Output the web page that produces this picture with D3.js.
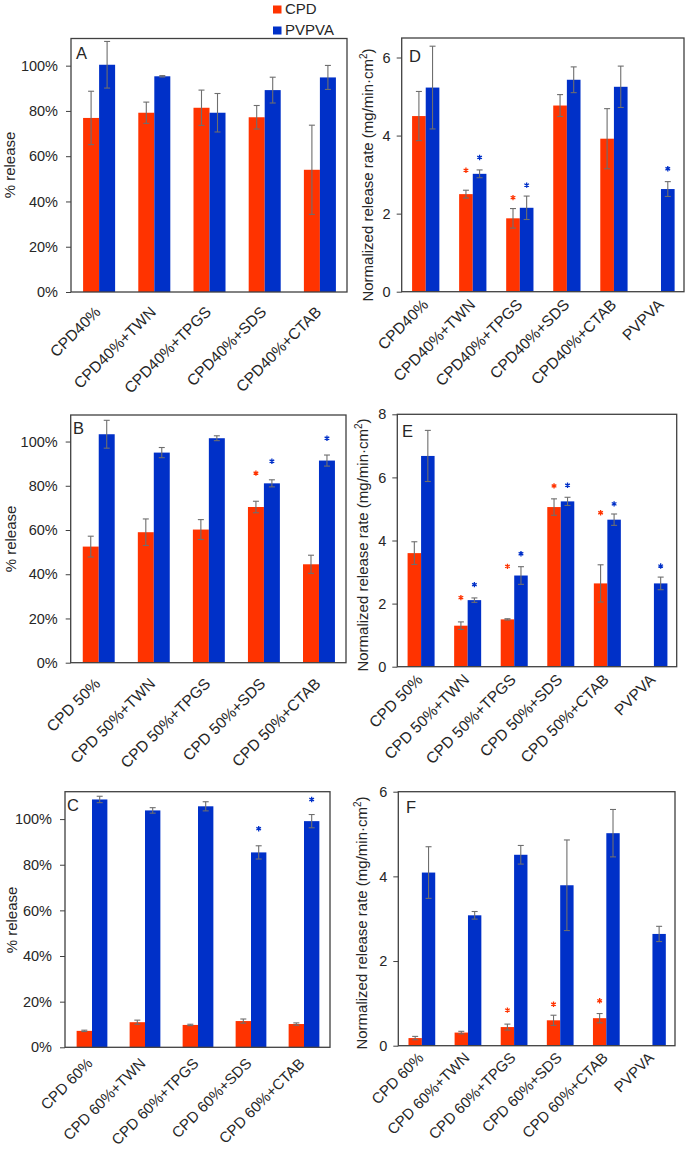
<!DOCTYPE html>
<html><head><meta charset="utf-8">
<script src="https://cdn.jsdelivr.net/npm/d3@7"></script>
<style>
html,body{margin:0;padding:0;background:#fff;}
text{font-family:"Liberation Sans",Arial,sans-serif;fill:#262626;}
</style></head>
<body><svg id="c" width="685" height="1152"></svg>
<script>
// ---------- data ----------
const seriesNames = ["CPD", "PVPVA"];
const seriesColors = ["#ff3300", "#0030c8"];

const catsA = ["CPD40%", "CPD40%+TWN", "CPD40%+TPGS", "CPD40%+SDS", "CPD40%+CTAB"];
const cpdA = [76.9, 79.2, 81.4, 77.2, 54.0];
const cpdErrA = [11.8, 4.7, 7.8, 5.2, 19.7];
const pvpvaA = [100.4, 95.3, 79.2, 89.2, 94.8];
const pvpvaErrA = [10.3, 0.3, 8.5, 5.7, 5.3];
const cpdStarA = [null, null, null, null, null];
const pvpvaStarA = [null, null, null, null, null];

const catsB = ["CPD 50%", "CPD 50%+TWN", "CPD 50%+TPGS", "CPD 50%+SDS", "CPD 50%+CTAB"];
const cpdB = [52.5, 59.0, 60.2, 70.4, 44.5];
const cpdErrB = [4.7, 6.0, 4.5, 2.6, 4.1];
const pvpvaB = [103.3, 95.0, 101.5, 81.1, 91.4];
const pvpvaErrB = [6.3, 2.3, 1.1, 1.6, 2.5];
const cpdStarB = [null, null, null, 85.7, null];
const pvpvaStarB = [null, null, null, 91.1, 101.5];

const catsC = ["CPD 60%", "CPD 60%+TWN", "CPD 60%+TPGS", "CPD 60%+SDS", "CPD 60%+CTAB"];
const cpdC = [7.2, 11.0, 9.8, 11.5, 10.2];
const cpdErrC = [0.3, 0.9, 0.3, 0.9, 0.5];
const pvpvaC = [108.6, 103.8, 105.6, 85.4, 99.1];
const pvpvaErrC = [1.4, 1.2, 2.0, 2.9, 2.9];
const cpdStarC = [null, null, null, null, null];
const pvpvaStarC = [null, null, null, 95.8, 108.6];

const catsD = ["CPD40%", "CPD40%+TWN", "CPD40%+TPGS", "CPD40%+SDS", "CPD40%+CTAB", "PVPVA"];
const cpdD = [4.50, 2.50, 1.88, 4.77, 3.92, null];
const cpdErrD = [0.63, 0.10, 0.25, 0.28, 0.77, null];
const pvpvaD = [5.23, 3.02, 2.15, 5.43, 5.25, 2.63];
const pvpvaErrD = [1.06, 0.10, 0.30, 0.33, 0.53, 0.19];
const cpdStarD = [null, 3.11, 2.41, null, null, null];
const pvpvaStarD = [null, 3.44, 2.73, null, null, 3.15];

const catsE = ["CPD 50%", "CPD 50%+TWN", "CPD 50%+TPGS", "CPD 50%+SDS", "CPD 50%+CTAB", "PVPVA"];
const cpdE = [3.60, 1.30, 1.50, 5.06, 2.64, null];
const cpdErrE = [0.36, 0.12, 0.02, 0.26, 0.59, null];
const pvpvaE = [6.68, 2.11, 2.89, 5.24, 4.66, 2.64];
const pvpvaErrE = [0.81, 0.07, 0.28, 0.13, 0.18, 0.20];
const cpdStarE = [null, 2.19, 3.18, 5.73, 4.88, null];
const pvpvaStarE = [null, 2.60, 3.58, 5.75, 5.16, 3.19];

const catsF = ["CPD 60%", "CPD 60%+TWN", "CPD 60%+TPGS", "CPD 60%+SDS", "CPD 60%+CTAB", "PVPVA"];
const cpdF = [0.18, 0.31, 0.44, 0.60, 0.65, null];
const cpdErrF = [0.04, 0.03, 0.07, 0.12, 0.11, null];
const pvpvaF = [4.09, 3.08, 4.51, 3.79, 5.02, 2.64];
const pvpvaErrF = [0.61, 0.09, 0.22, 1.07, 0.56, 0.18];
const cpdStarF = [null, null, 0.84, 0.98, 1.06, null];
const pvpvaStarF = [null, null, null, null, null, null];

const pctTicks = [0, 20, 40, 60, 80, 100];
const rateTicksD = [0, 2, 4, 6];
const rateTicksE = [0, 2, 4, 6, 8];
const rateTicksF = [0, 2, 4, 6];
const pctTitle = "% release";
const rateTitle = "Normalized release rate (mg/min·cm";

// ---------- drawing ----------
const svg = d3.select("#c");

function panel(o) {
  const g = svg.append("g");
  const x = d3.scaleBand().domain(o.cats).range([o.x0, o.x1]);
  const y = d3.scaleLinear().domain([0, o.ymax]).range([o.y1, o.y0]);
  const bw = x.bandwidth() * 0.29;
  const cx = c => x(c) + x.bandwidth() / 2 + 0.5;

  const series = [
    {vals: o.cpd, errs: o.cpdErr, stars: o.cpdStar, off: -bw, col: seriesColors[0]},
    {vals: o.pv, errs: o.pvErr, stars: o.pvStar, off: 0, col: seriesColors[1]}
  ];
  series.forEach(s => {
    const d = o.cats.map((c, i) => ({c, v: s.vals[i], e: s.errs[i], st: s.stars[i]}));
    const dv = d.filter(p => p.v != null);
    g.selectAll(null).data(dv).join("rect")
      .attr("x", p => cx(p.c) + s.off).attr("width", bw)
      .attr("y", p => y(p.v)).attr("height", p => y(0) - y(p.v))
      .attr("fill", s.col);
    const eg = g.selectAll(null).data(dv).join("g")
      .attr("stroke", "#6e6e6e").attr("stroke-width", 1.1);
    const bx = p => cx(p.c) + s.off + bw / 2;
    eg.append("line").attr("x1", bx).attr("x2", bx)
      .attr("y1", p => y(p.v - p.e)).attr("y2", p => y(p.v + p.e));
    eg.append("line").attr("x1", p => bx(p) - 3).attr("x2", p => bx(p) + 3)
      .attr("y1", p => y(p.v + p.e)).attr("y2", p => y(p.v + p.e));
    eg.append("line").attr("x1", p => bx(p) - 3).attr("x2", p => bx(p) + 3)
      .attr("y1", p => y(p.v - p.e)).attr("y2", p => y(p.v - p.e));
    const ds = d.filter(p => p.st != null);
    g.selectAll(null).data(ds).join("path")
      .attr("transform", p => `translate(${bx(p)},${y(p.st)})`)
      .attr("d", d3.symbol(d3.symbolAsterisk, 20))
      .attr("stroke", s.col).attr("stroke-width", 1.3).attr("fill", "none");
  });

  // frame
  g.append("rect").attr("x", o.x0).attr("y", o.y0)
    .attr("width", o.x1 - o.x0).attr("height", o.y1 - o.y0)
    .attr("fill", "none").attr("stroke", "#404040").attr("stroke-width", 1.3);

  // y axis
  const ya = g.append("g").attr("transform", `translate(${o.x0},0)`)
    .call(d3.axisLeft(y).tickValues(o.ticks).tickSize(5).tickPadding(o.tpad).tickFormat(o.fmt));
  ya.select(".domain").remove();
  ya.selectAll("line").attr("stroke", "#404040");
  ya.selectAll("text").attr("font-size", 14.5).attr("fill", "#262626")
    .style("font-family", '"Liberation Sans",Arial,sans-serif');

  // x axis
  const xa = g.append("g").attr("transform", `translate(0,${o.y1})`)
    .call(d3.axisBottom(x).tickSize(0));
  xa.select(".domain").remove();
  xa.selectAll("text").attr("x", 0).attr("y", 0).attr("dy", 0)
    .attr("text-anchor", "end").attr("font-size", o.lfs).attr("fill", "#262626")
    .style("font-family", '"Liberation Sans",Arial,sans-serif')
    .attr("transform", `translate(${o.ldx},${o.ldy}) rotate(-45)`);

  // panel letter
  g.append("text").attr("x", o.lx).attr("y", o.ly).attr("font-size", 16.5).text(o.letter);

  // y title
  const t = g.append("text")
    .attr("transform", `translate(${o.tx},${o.ty}) rotate(-90)`)
    .attr("text-anchor", "middle").attr("dy", "0.35em").attr("font-size", 15);
  if (o.rate) {
    t.append("tspan").text(rateTitle);
    t.append("tspan").attr("font-size", 10).attr("dy", -6).text("2");
    t.append("tspan").attr("dy", 6).text(")");
  } else {
    t.text(pctTitle);
  }
}

const pctFmt = v => v + "%";
const numFmt = v => String(v);

panel({cats: catsA, cpd: cpdA, cpdErr: cpdErrA, pv: pvpvaA, pvErr: pvpvaErrA, cpdStar: cpdStarA, pvStar: pvpvaStarA,
  x0: 71, x1: 347, y0: 38.5, y1: 292, ymax: 112, ticks: pctTicks, fmt: pctFmt, tpad: 8, lfs: 15.5,
  ldx: 3, ldy: 21, letter: "A", lx: 76, ly: 59, tx: 10, ty: 165});
panel({cats: catsB, cpd: cpdB, cpdErr: cpdErrB, pv: pvpvaB, pvErr: pvpvaErrB, cpdStar: cpdStarB, pvStar: pvpvaStarB,
  x0: 70.7, x1: 346, y0: 415, y1: 662.7, ymax: 112, ticks: pctTicks, fmt: pctFmt, tpad: 8, lfs: 15.5,
  ldx: 3, ldy: 22, letter: "B", lx: 73, ly: 433.5, tx: 11, ty: 539});
panel({cats: catsC, cpd: cpdC, cpdErr: cpdErrC, pv: pvpvaC, pvErr: pvpvaErrC, cpdStar: cpdStarC, pvStar: pvpvaStarC,
  x0: 65, x1: 330, y0: 791.7, y1: 1047.3, ymax: 112, ticks: pctTicks, fmt: pctFmt, tpad: 8, lfs: 15,
  ldx: 2, ldy: 17, letter: "C", lx: 67, ly: 810.5, tx: 12, ty: 920});
panel({cats: catsD, cpd: cpdD, cpdErr: cpdErrD, pv: pvpvaD, pvErr: pvpvaErrD, cpdStar: cpdStarD, pvStar: pvpvaStarD,
  x0: 401.7, x1: 684, y0: 38, y1: 291.7, ymax: 6.5, ticks: rateTicksD, fmt: numFmt, tpad: 6, rate: true, lfs: 15.5,
  ldx: 4, ldy: 14, letter: "D", lx: 409, ly: 62, tx: 368, ty: 175});
panel({cats: catsE, cpd: cpdE, cpdErr: cpdErrE, pv: pvpvaE, pvErr: pvpvaErrE, cpdStar: cpdStarE, pvStar: pvpvaStarE,
  x0: 397.3, x1: 676.7, y0: 414.3, y1: 666.7, ymax: 8, ticks: rateTicksE, fmt: numFmt, tpad: 6, rate: true, lfs: 15.5,
  ldx: 3, ldy: 14, letter: "E", lx: 402, ly: 437, tx: 363, ty: 545});
panel({cats: catsF, cpd: cpdF, cpdErr: cpdErrF, pv: pvpvaF, pvErr: pvpvaErrF, cpdStar: cpdStarF, pvStar: pvpvaStarF,
  x0: 398.3, x1: 675, y0: 791.7, y1: 1045.7, ymax: 6, ticks: rateTicksF, fmt: numFmt, tpad: 6, rate: true, lfs: 15,
  ldx: 3, ldy: 13, letter: "F", lx: 406, ly: 813, tx: 362, ty: 923});

// legend
const leg = svg.append("g");
seriesNames.forEach((n, i) => {
  leg.append("rect").attr("x", 273).attr("y", 5.5 + i * 21).attr("width", 8.5).attr("height", 8)
    .attr("fill", seriesColors[i]);
  leg.append("text").attr("x", 285).attr("y", 13.5 + i * 21).attr("font-size", 15).text(n);
});
</script></body></html>
